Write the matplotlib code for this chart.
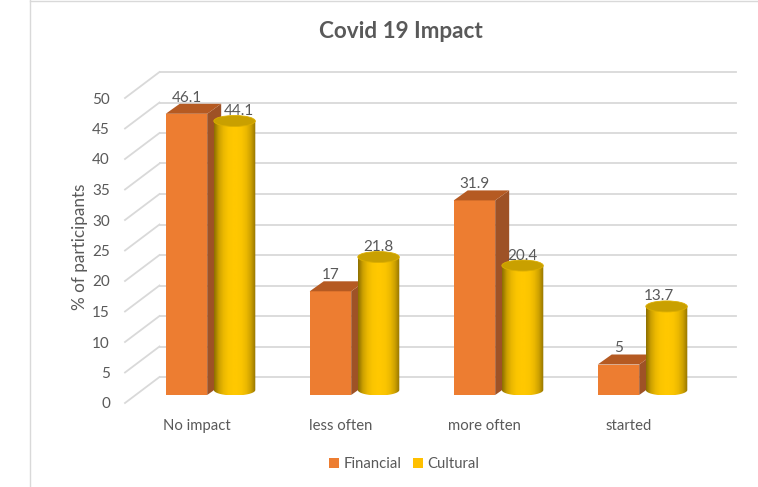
#!/usr/bin/env python3
"""Covid 19 Impact: fake-3D bar chart, square bars next to cylinders"""
import numpy as np
import matplotlib
matplotlib.use("Agg")
import matplotlib.pyplot as plt
from matplotlib.patches import Polygon, Ellipse, PathPatch
from matplotlib.path import Path
from matplotlib.transforms import Affine2D

categories = ["No impact", "less often", "more often", "started"]
financial = [46.1, 17, 31.9, 5]
cultural = [44.1, 21.8, 20.4, 13.7]
y_ticks = [0, 5, 10, 15, 20, 25, 30, 35, 40, 45, 50]

plt.rcParams['font.family'] = ['Lato', 'DejaVu Sans']
TEXT = "#595959"
GRID = "#d9d9d9"
ORANGE = "#ed7d31"
W, H = 758, 487
# the labels on the cylinders are nudged sideways in the original
CULTURAL_NUDGE = [4.5, 0, 0, -8]


def main():
    """Draw the walls, the bars and the text"""
    fig = plt.figure(figsize=(W / 100, H / 100), dpi=100)

    # the axes is the plane the bars stand on
    ax = fig.add_axes([138.5 / W, (H - 395) / H, 576 / W, 305 / H])
    ax.set_xlim(-0.5, 3.5)
    ax.set_ylim(0, 50)
    ax.axis("off")

    # walls are the same plane shifted in pixels
    back = ax.transData + Affine2D().translate(21, 18)
    front = ax.transData + Affine2D().translate(-13.5, -8)
    for t in y_ticks:
        ax.plot([-0.5, 3.5], [t, t], color=GRID, lw=1.3, transform=back,
                clip_on=False, zorder=1)
        x0, y0 = front.transform((-0.5, t))
        x1, y1 = back.transform((-0.5, t))
        ax.plot([x0, x1], [y0, y1], color=GRID, lw=1.3, transform=None,
                clip_on=False, zorder=1)
        ax.text(x0 - 15, y0 - 1.5, str(t), ha="right", va="center",
                fontsize=11, color=TEXT, transform=None)

    bar_w = 0.288
    depth = Affine2D().translate(14, 10)
    to_px = ax.transData
    for i, v in enumerate(financial):
        x0, x1 = i - 0.167 - bar_w / 2, i - 0.167 + bar_w / 2
        ax.add_patch(Polygon([(x0, 0), (x1, 0), (x1, v), (x0, v)], fc=ORANGE,
                             ec="none", zorder=3, clip_on=False))
        p = to_px.transform([(x1, 0), (x1, v), (x0, v)])
        d = depth.transform(p)
        ax.add_patch(Polygon([p[0], p[1], d[1], d[0]], fc="#9e5226", ec="none",
                             transform=None, zorder=2, clip_on=False))
        ax.add_patch(Polygon([p[2], p[1], d[1], d[2]], fc="#b55a22", ec="none",
                             transform=None, zorder=3, clip_on=False))
        ax.annotate(str(v), ((x0 + x1) / 2, v), xytext=(0, 9),
                    textcoords="offset pixels", ha="center", va="bottom",
                    fontsize=11, color=TEXT, zorder=6)

    # cylinder stands a little higher on the plane than the square bar
    lift = ax.transData + Affine2D().translate(0, 5)
    shade = np.array([0.56, 0.80, 0.92, 0.98, 1.0, 1.0, 0.98, 0.92, 0.80, 0.58])
    shade = np.interp(np.linspace(0, 9, 64), np.arange(10), shade)
    base = np.array([255, 200, 0]) / 255
    strip = shade[None, :, None] * base
    ell_h = 1.8
    t = np.linspace(np.pi, 2 * np.pi, 40)
    for i, v in enumerate(cultural):
        cx = i + 0.167
        lower = np.c_[cx + bar_w / 2 * np.cos(t), ell_h / 2 * np.sin(t)]
        upper = np.array([[cx + bar_w / 2, v], [cx - bar_w / 2, v]])
        body = Path(np.vstack([lower, upper, lower[:1]]), closed=True)
        clip = PathPatch(body, transform=lift, fc="none", ec="none")
        ax.add_patch(clip)
        im = ax.imshow(strip, extent=(cx - bar_w / 2, cx + bar_w / 2, -2, v + 1),
                       transform=lift, aspect="auto", zorder=4,
                       interpolation="bilinear")
        im.set_clip_path(clip)
        ax.add_patch(Ellipse((cx, v), bar_w, ell_h, fc="#c9a000", ec="#dcae00",
                             lw=0.6, transform=lift, zorder=5, clip_on=False))
        ax.annotate(str(v), (cx, v), xytext=(CULTURAL_NUDGE[i], 8),
                    textcoords="offset pixels", ha="center", va="bottom",
                    fontsize=11, color=TEXT, zorder=6)
    ax.set_xlim(-0.5, 3.5)
    ax.set_ylim(0, 50)

    for i, name in enumerate(categories):
        ax.annotate(name, (i, 0), xytext=(-14, -31), textcoords="offset pixels",
                    ha="center", va="center", fontsize=10.7, color=TEXT)

    fig.text(80 / W, 1 - 247 / H, "% of participants", rotation=90, ha="center",
             va="center", fontsize=12.3, color=TEXT)
    fig.text(400.5 / W, 1 - 32 / H, "Covid 19 Impact", ha="center", va="center",
             fontsize=16.2, fontweight="bold", color=TEXT)

    # legend
    handles = [plt.Rectangle((0, 0), 1, 1, fc=ORANGE),
               plt.Rectangle((0, 0), 1, 1, fc="#ffc000")]
    fig.legend(handles, ["Financial", "Cultural"], loc="center",
               bbox_to_anchor=(404.5 / W, 1 - 464 / H), ncol=2, frameon=False,
               fontsize=10.7, labelcolor=TEXT, handlelength=0.65, handleheight=0.65,
               handletextpad=0.3, columnspacing=0.8)

    # chart border, left and top
    fig.add_artist(plt.Line2D([30 / W, 30 / W], [0, 1], color=GRID, lw=1))
    fig.add_artist(plt.Line2D([30 / W, 1], [1 - 0.7 / H, 1 - 0.7 / H], color=GRID, lw=1))

    fig.savefig("out.png", dpi=100)


if __name__ == "__main__":
    main()
